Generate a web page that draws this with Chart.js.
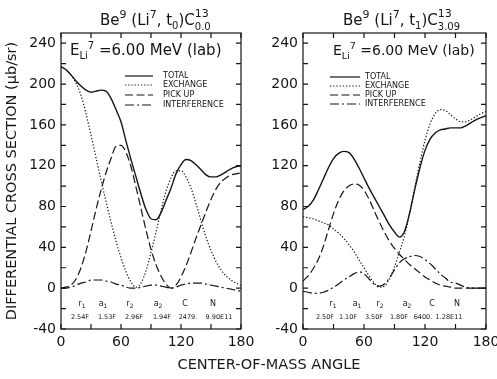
<!DOCTYPE html>
<html>
<head>
<meta charset="utf-8">
<script src="https://cdn.jsdelivr.net/npm/chart.js@4"></script>
<style>
  body { margin: 0; background: #fff; width: 497px; height: 379px; overflow: hidden; position: relative; font-family: "DejaVu Sans", sans-serif; color: #1a1a1a; }
  canvas { position: absolute; top: 0; }
  #xtitle { position: absolute; left: 0; width: 538px; top: 356px; text-align: center; font-size: 14.5px; line-height: 17px; }
</style>
</head>
<body>
<canvas id="chart-left" width="300" height="379" style="left:0"></canvas>
<canvas id="chart-right" width="247" height="379" style="left:250px"></canvas>
<div id="xtitle">CENTER-OF-MASS ANGLE</div>
<script>
// angles (degrees, centre of mass)
const angles = [0, 5, 10, 15, 20, 25, 30, 35, 40, 45, 50, 55, 60, 65, 70, 75, 80, 85, 90,
  95, 100, 105, 110, 115, 120, 125, 130, 135, 140, 145, 150, 155, 160, 165, 170, 175, 180];

// Be9(Li7,t0)C13 ground state
const totalL = [217, 214, 209, 203, 198, 194, 192, 193, 194, 193, 186, 175, 163, 144, 126, 109, 92, 77, 68,
  67, 74, 86, 98, 112, 121, 126, 125, 121, 116, 111, 109, 109, 111, 114, 117, 119, 120];
const exchL = [217, 214, 209, 201, 189, 171, 150, 128, 106, 85, 65, 46, 30, 16, 6, 1, 5, 17, 35,
  55, 76, 95, 108, 115, 115, 109, 98, 83, 66, 50, 37, 26, 18, 12, 8, 5, 3];
const pickL = [0, 1, 3, 9, 20, 36, 56, 77, 96, 113, 127, 139, 140, 133, 119, 99, 78, 57, 38,
  23, 12, 4, 0, 3, 11, 22, 35, 49, 62, 75, 87, 97, 104, 108, 111, 112, 113];
const interfL = [0, 0, 1, 3, 5, 6, 8, 8, 8, 7, 6, 4, 3, 1, 0, 0, 1, 2, 3,
  3, 2, 1, 0, 1, 3, 4, 5, 5, 5, 4, 3, 2, 1, 0, -1, -2, -3];

// Be9(Li7,t1)C13 3.09 MeV state
const totalR = [77, 80, 86, 96, 107, 118, 127, 132, 134, 133, 127, 118, 108, 98, 89, 80, 71, 62, 55,
  50, 56, 74, 97, 118, 135, 146, 152, 155, 156, 157, 157, 157, 159, 162, 165, 167, 169];
const exchR = [70, 69, 68, 66, 64, 62, 58, 54, 49, 43, 36, 28, 20, 12, 5, 1, 2, 9, 21,
  36, 52, 74, 99, 123, 145, 161, 171, 175, 174, 170, 166, 163, 163, 165, 168, 171, 173];
const pickR = [7, 12, 19, 28, 41, 57, 73, 86, 95, 100, 102, 101, 96, 87, 76, 65, 55, 46, 39,
  33, 28, 23, 19, 15, 11, 8, 5, 3, 2, 1, 0, 0, 0, 0, 0, 0, 0];
const interfR = [-3, -4, -5, -5, -4, -2, 1, 4, 8, 11, 14, 16, 14, 9, 4, 2, 4, 10, 18,
  25, 29, 31, 32, 31, 28, 24, 19, 14, 10, 6, 5, 3, 1, 0, 0, 0, 0];

const xTicks = [0, 60, 120, 180];
const xMinor = [0, 30, 60, 90, 120, 150, 180];
const yTicks = [-40, 0, 40, 80, 120, 160, 200, 240];
const yMinor = [-40, -20, 0, 20, 40, 60, 80, 100, 120, 140, 160, 180, 200, 220, 240];

const seriesNames = ["TOTAL", "EXCHANGE", "PICK UP", "INTERFERENCE"];
const paramNames = [["r", "1"], ["a", "1"], ["r", "2"], ["a", "2"], ["C", ""], ["N", ""]];
const paramsL = ["2.54F", "1.53F", "2.96F", "1.94F", "2479.", "9.90E11"];
const paramsR = ["2.50F", "1.10F", "3.50F", "1.80F", "6400.", "1.28E11"];

const ink = "#151515";
const FONT = '"DejaVu Sans", sans-serif';
const dashes = [[], [1.3, 1.9], [8, 3.5], [9, 3, 2, 3]];

function richWidth(ctx, parts) {
  let w = 0;
  parts.forEach(p => {
    ctx.font = p[1] + "px " + FONT;
    if (!p[3]) w += ctx.measureText(p[0]).width;
  });
  return w;
}
function drawRich(ctx, x, y, parts, center) {
  let cx = center ? x - richWidth(ctx, parts) / 2 : x;
  parts.forEach(p => {
    ctx.font = p[1] + "px " + FONT;
    ctx.fillText(p[0], cx, y + (p[2] || 0));
    if (!p[3]) cx += ctx.measureText(p[0]).width;
  });
}

const panelText = {
  id: "panelText",
  afterDatasetsDraw(chart, args, o) {
    const ctx = chart.ctx;
    const { left, right, top, bottom } = chart.chartArea;
    const xs = chart.scales.x, ys = chart.scales.y;
    ctx.save();
    ctx.strokeStyle = ink;
    ctx.fillStyle = ink;
    ctx.lineWidth = 1.2;
    ctx.setLineDash([]);
    ctx.strokeRect(left, top, right - left, bottom - top);
    ctx.beginPath();
    yMinor.forEach(v => {
      const py = ys.getPixelForValue(v);
      ctx.moveTo(left, py); ctx.lineTo(left + 5, py);
      ctx.moveTo(right - 5, py); ctx.lineTo(right, py);
    });
    xMinor.forEach(v => {
      const px = xs.getPixelForValue(v);
      ctx.moveTo(px, bottom); ctx.lineTo(px, bottom - 5);
      ctx.moveTo(px, top); ctx.lineTo(px, top + 5);
    });
    ctx.stroke();

    ctx.textBaseline = "alphabetic";
    ctx.textAlign = "left";
    drawRich(ctx, o.titleX, 25, o.title);
    drawRich(ctx, o.energyX, 55, o.energy);

    // legend
    ctx.lineWidth = 1.2;
    ctx.textBaseline = "middle";
    chart.data.datasets.forEach((ds, i) => {
      const y = o.legendY[i];
      ctx.setLineDash(ds.borderDash);
      ctx.beginPath();
      ctx.moveTo(o.legendX[0], y);
      ctx.lineTo(o.legendX[1], y);
      ctx.stroke();
      ctx.font = "8px " + FONT;
      ctx.fillText(ds.label, o.legendX[2], y);
    });
    ctx.setLineDash([]);

    // fit parameters
    ctx.textBaseline = "alphabetic";
    paramNames.forEach((n, i) => {
      drawRich(ctx, o.nameX[i], 306, [[n[0], 8], [n[1], 6, 2]], true);
    });
    ctx.textAlign = "center";
    ctx.font = "6.5px " + FONT;
    o.params.forEach((t, i) => ctx.fillText(t, o.valueX[i], 319));
    ctx.restore();
  }
};

function makeChart(id, series, opts) {
  const datasets = series.map((vals, i) => ({
    label: seriesNames[i],
    data: angles.map((a, j) => ({ x: a, y: vals[j] })),
    borderColor: ink,
    borderWidth: i === 0 ? 1.4 : 1.2,
    borderDash: dashes[i],
    pointRadius: 0,
    fill: false,
    cubicInterpolationMode: "monotone",
  }));
  return new Chart(document.getElementById(id), {
    type: "line",
    data: { datasets },
    options: {
      responsive: false,
      animation: false,
      events: [],
      layout: { padding: { top: 33, right: opts.padRight, left: 0, bottom: 0 } },
      plugins: { legend: { display: false }, tooltip: { enabled: false }, panelText: opts.text },
      scales: {
        x: {
          type: "linear", min: 0, max: 180,
          afterBuildTicks: s => { s.ticks = xTicks.map(v => ({ value: v })); },
          afterFit: s => { s.height = 50; s.paddingLeft = 0; s.paddingRight = 0; },
          grid: { display: false, drawTicks: false },
          border: { display: false },
          ticks: { color: ink, padding: 5, maxRotation: 0, font: { family: "DejaVu Sans", size: 14 } },
        },
        y: {
          type: "linear", min: -40, max: 250,
          afterBuildTicks: s => { s.ticks = yTicks.map(v => ({ value: v })); },
          afterFit: s => { s.width = opts.axisWidth; s.paddingTop = 0; s.paddingBottom = 0; },
          grid: { display: false, drawTicks: false },
          border: { display: false },
          ticks: { color: ink, padding: 5, font: { family: "DejaVu Sans", size: 14 } },
          title: {
            display: opts.yTitle, text: "DIFFERENTIAL CROSS SECTION (\u03bcb/sr)", color: ink,
            font: { family: "DejaVu Sans", size: 14.5 }, padding: { top: 4, bottom: 0 },
          },
        },
      },
    },
    plugins: [panelText],
  });
}

makeChart("chart-left", [totalL, exchL, pickL, interfL], {
  padRight: 59, axisWidth: 61, yTitle: true,
  text: {
    titleX: 100,
    title: [["Be", 15], ["9", 11, -7], [" (Li", 15], ["7", 11, -7], [", t", 15], ["0", 10, 4], [")C", 15], ["13", 11, -8, true], ["0.0", 10, 5]],
    energyX: 70,
    energy: [["E", 15], ["Li", 10, 4], ["7", 10, -6], [" =6.00 MeV (lab)", 15]],
    legendX: [125, 153, 163], legendY: [76, 85, 95, 105],
    nameX: [82, 103, 130, 158, 185, 213],
    valueX: [80, 107, 134, 162, 188, 219],
    params: paramsL,
  },
});

makeChart("chart-right", [totalR, exchR, pickR, interfR], {
  padRight: 11, axisWidth: 53, yTitle: false,
  text: {
    titleX: 93,
    title: [["Be", 15], ["9", 11, -7], [" (Li", 15], ["7", 11, -7], [", t", 15], ["1", 10, 4], [")C", 15], ["13", 11, -8, true], ["3.09", 10, 5]],
    energyX: 83,
    energy: [["E", 14], ["Li", 9.5, 4], ["7", 9.5, -6], [" =6.00 MeV (lab)", 14]],
    legendX: [80, 110, 115], legendY: [77, 86, 95, 104],
    nameX: [83, 107, 130, 157, 182, 207],
    valueX: [75, 98, 124, 149, 173, 199],
    params: paramsR,
  },
});
</script>
</body>
</html>
